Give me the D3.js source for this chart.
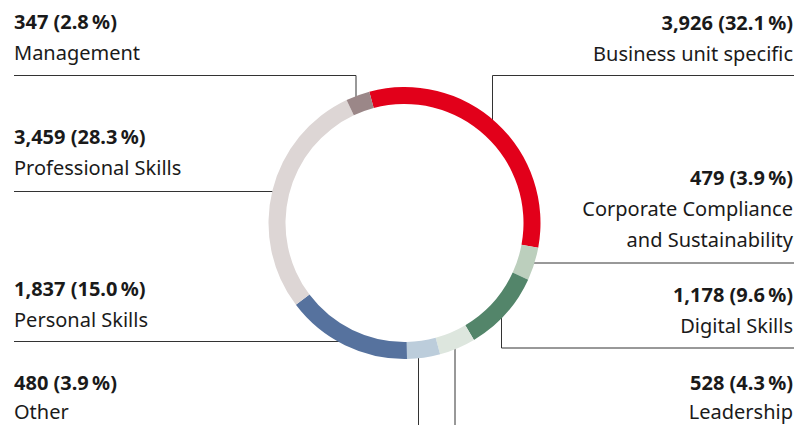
<!DOCTYPE html>
<meta charset="utf-8">
<style>
  body { margin: 0; background: #fff; }
  text { font-family: "Noto Sans", sans-serif; fill: #1a1a1a; }
</style>
<body>
  <script src="https://d3js.org/d3.v7.min.js"></script>
  <script>
    var width = 796,
      height = 425;

    // data, clockwise from the top
    var categories = ["Business unit specific", "Corporate Compliance and Sustainability", "Digital Skills",
      "Leadership", "Other", "Personal Skills", "Professional Skills", "Management"];
    var values = [3926, 479, 1178, 528, 480, 1837, 3459, 347];
    var shares = [32.1, 3.9, 9.6, 4.3, 3.9, 15.0, 28.3, 2.8];
    var colors = ["#e2001a", "#bccfbd", "#53856a", "#dde6de", "#bccddb", "#56729e", "#ddd6d5", "#9b8788"];

    var cx = 404.5,
      cy = 223,
      rOuter = 136,
      rInner = 119,
      rMid = (rOuter + rInner) / 2;
    var start = -15 * Math.PI / 180;

    var svg = d3.select("body").append("svg")
      .attr("width", width)
      .attr("height", height);

    // label layout: side, text x, value baseline, leader line
    // leader: "h" = horizontal at y from edge to ring, "v" = vertical from ring down to y,
    // "vh" = vertical from ring to y then horizontal to edge
    var layout = [
      { anchor: "end", x: 793, y: 30, gap: 31, lines: ["Business unit specific"], lead: { type: "vh", x: 492.5, y: 75.5, edge: 794 } },
      { anchor: "end", x: 793, y: 185, gap: 31, lines: ["Corporate Compliance", "and Sustainability"], lead: { type: "h", y: 263, edge: 794 } },
      { anchor: "end", x: 793, y: 301.5, gap: 31, lines: ["Digital Skills"], lead: { type: "vh", x: 501.5, y: 348, edge: 794 } },
      { anchor: "end", x: 793, y: 389.5, gap: 29.5, lines: ["Leadership"], lead: { type: "v", x: 455, y: 425 } },
      { anchor: "start", x: 14, y: 389.5, gap: 29.5, lines: ["Other"], lead: { type: "v", x: 418.5, y: 425 } },
      { anchor: "start", x: 14, y: 296, gap: 31, lines: ["Personal Skills"], lead: { type: "h", y: 341.5, edge: 14 } },
      { anchor: "start", x: 14, y: 143.5, gap: 31, lines: ["Professional Skills"], lead: { type: "h", y: 191.5, edge: 14 } },
      { anchor: "start", x: 14, y: 29, gap: 31, lines: ["Management"], lead: { type: "vh", x: 356, y: 75.5, edge: 14 } }
    ];

    var fmt = d3.format(",");
    var data = values.map(function(v, i) {
      return { name: categories[i], value: v, share: shares[i], color: colors[i], layout: layout[i] };
    });

    // leader lines first, ring is drawn over them
    function ringX(y, side) {
      var dy = y - cy;
      return cx + side * Math.sqrt(rMid * rMid - dy * dy);
    }

    function ringY(x, side) {
      var dx = x - cx;
      return cy + side * Math.sqrt(rMid * rMid - dx * dx);
    }

    var leaders = svg.append("g")
      .attr("fill", "none")
      .attr("stroke", "#333")
      .attr("stroke-width", 1);

    data.forEach(function(d) {
      var l = d.layout.lead,
        pts;
      if (l.type === "h") {
        var side = l.edge > cx ? 1 : -1;
        pts = [[l.edge, l.y], [ringX(l.y, side), l.y]];
      } else if (l.type === "v") {
        pts = [[l.x, ringY(l.x, 1)], [l.x, l.y]];
      } else {
        var s = l.y < cy ? -1 : 1;
        pts = [[l.x, ringY(l.x, s)], [l.x, l.y], [l.edge, l.y]];
      }
      leaders.append("path").attr("d", d3.line()(pts));
    });

    var pie = d3.pie()
      .sort(null)
      .value(function(d) { return d.value; })
      .startAngle(start)
      .endAngle(start + 2 * Math.PI);

    var arc = d3.arc()
      .innerRadius(rInner)
      .outerRadius(rOuter);

    svg.append("g")
      .attr("transform", "translate(" + cx + "," + cy + ")")
      .selectAll("path")
      .data(pie(data))
      .enter().append("path")
      .attr("d", arc)
      .attr("fill", function(d) { return d.data.color; });

    // labels
    var labels = svg.append("g")
      .selectAll("text")
      .data(data)
      .enter().append("text")
      .attr("text-anchor", function(d) { return d.layout.anchor; })
      .style("font-size", "20px");

    labels.append("tspan")
      .attr("x", function(d) { return d.layout.x; })
      .attr("y", function(d) { return d.layout.y; })
      .style("font-weight", "bold")
      .text(function(d) { return fmt(d.value) + " (" + d.share.toFixed(1) + "\u2009%)"; });

    labels.each(function(d) {
      var t = d3.select(this);
      d.layout.lines.forEach(function(line, i) {
        t.append("tspan")
          .attr("x", d.layout.x)
          .attr("y", d.layout.y + d.layout.gap * (i + 1))
          .text(line);
      });
    });
  </script>
</body>
